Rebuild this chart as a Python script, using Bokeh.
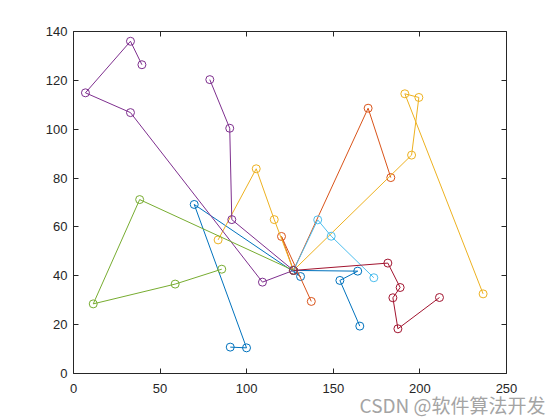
from bokeh.plotting import figure
from bokeh.models import Range1d, LinearAxis, FixedTicker, Title
from bokeh.embed import file_html
from bokeh.resources import INLINE

# depot and routes
depot = (127.0, 42.2)

blue_x = [90.5, 99.9, 69.7, 131.1, 127.0, 164.1, 153.8, 165.3]
blue_y = [10.8, 10.5, 69.2, 39.7, 42.2, 41.9, 38.1, 19.4]

orange_x = [183.2, 170.1, 127.0, 120.1, 137.3]
orange_y = [80.2, 108.6, 42.2, 56.1, 29.5]

yellow_x = [83.5, 105.5, 115.9, 127.0, 195.2, 199.4, 191.3, 236.5]
yellow_y = [54.7, 83.8, 63.0, 42.2, 89.4, 113.0, 114.5, 32.6]

purple_x = [39.5, 32.9, 6.9, 32.9, 109.1, 127.0, 91.4, 90.2, 78.7]
purple_y = [126.4, 136.0, 114.9, 106.8, 37.4, 42.2, 63.0, 100.4, 120.3]

green_x = [127.0, 38.2, 11.4, 58.7, 85.6]
green_y = [42.2, 71.2, 28.5, 36.6, 42.7]

lightblue_x = [127.0, 141.0, 148.8, 173.4]
lightblue_y = [42.2, 62.9, 56.2, 39.2]

darkred_x = [127.0, 181.5, 188.6, 184.4, 187.3, 211.3]
darkred_y = [42.2, 45.2, 35.2, 31.0, 18.3, 31.1]

x_ticks = [0, 50, 100, 150, 200, 250]
y_ticks = [0, 20, 40, 60, 80, 100, 120, 140]

routes = [
    (blue_x, blue_y, "#0072BD"),
    (orange_x, orange_y, "#D95319"),
    (yellow_x, yellow_y, "#EDB120"),
    (purple_x, purple_y, "#7E2F8E"),
    (green_x, green_y, "#77AC30"),
    (lightblue_x, lightblue_y, "#4DBEEE"),
    (darkred_x, darkred_y, "#A2142F"),
]

p = figure(frame_width=433, frame_height=342,
           x_range=Range1d(0, 250), y_range=Range1d(0, 140),
           output_backend="svg", toolbar_location=None,
           min_border_left=73, min_border_right=54,
           min_border_top=31, min_border_bottom=47,
           background_fill_color="white", border_fill_color="white")
p.xgrid.visible = False
p.ygrid.visible = False
p.outline_line_color = "#262626"
p.outline_line_width = 1

for xs, ys, c in routes:
    p.line(xs, ys, line_color=c, line_width=1)
    p.scatter(xs, ys, marker="circle", size=8, fill_color=None,
              line_color=c, line_width=1)

def style(ax, labels=True, standoff=6):
    ax.axis_line_color = None
    ax.major_tick_in = 5
    ax.major_tick_out = 0
    ax.minor_tick_line_color = None
    ax.major_tick_line_color = "#262626"
    ax.major_label_text_font = "Liberation Sans"
    ax.major_label_text_font_size = "13px"
    ax.major_label_text_color = "#262626"
    ax.major_label_standoff = standoff
    if not labels:
        ax.major_label_text_color = None

p.xaxis.ticker = FixedTicker(ticks=x_ticks)
p.yaxis.ticker = FixedTicker(ticks=y_ticks)
style(p.xaxis[0], standoff=10)
style(p.yaxis[0], standoff=6)

top = LinearAxis(ticker=FixedTicker(ticks=x_ticks))
right = LinearAxis(ticker=FixedTicker(ticks=y_ticks))
style(top, labels=False)
style(right, labels=False)
p.add_layout(top, "above")
p.add_layout(right, "right")

wm = Title(text="CSDN @软件算法开发", align="right", offset=-39,
           text_font="Noto Sans CJK SC", text_font_size="19px",
           text_font_style="normal", text_color="#a4a4a4", standoff=-14,
           text_line_height=1.0)
p.add_layout(wm, "below")

open("out.html", "w").write(file_html(p, INLINE))
